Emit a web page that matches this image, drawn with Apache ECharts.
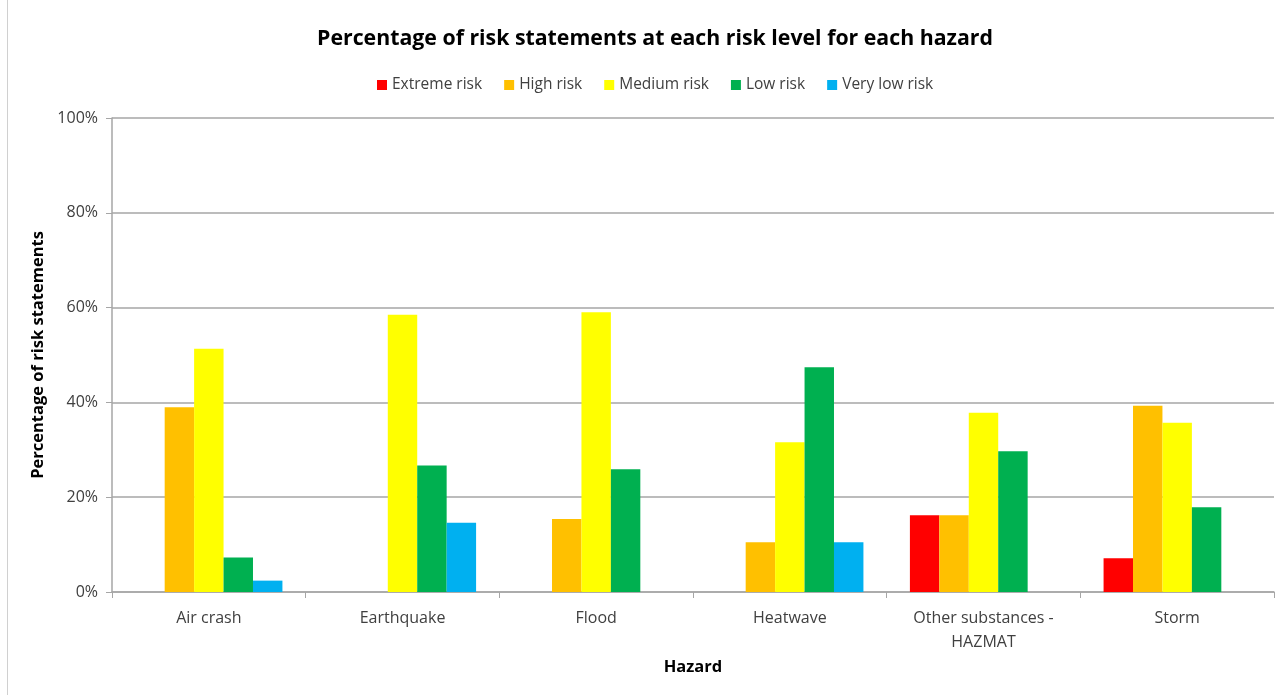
<!DOCTYPE html>
<html>
<head>
<meta charset="utf-8">
<script src="https://cdn.jsdelivr.net/npm/echarts@6/dist/echarts.min.js"></script>
<style>
  html, body { margin: 0; padding: 0; background: #fff; }
  #frame { position: absolute; left: 7px; top: 0; width: 1280px; height: 695px; border-left: 1px solid #d0d0d0; box-sizing: border-box; }
  #chart { position: absolute; left: 0; top: 0; width: 1280px; height: 695px; }
</style>
</head>
<body>
<div id="frame"></div>
<div id="chart"></div>
<script>
var hazards = ['Air crash', 'Earthquake', 'Flood', 'Heatwave', 'Other substances -\nHAZMAT', 'Storm'];
var riskLevels = ['Extreme risk', 'High risk', 'Medium risk', 'Low risk', 'Very low risk'];
var riskColors = ['#ff0000', '#ffc000', '#ffff00', '#00b050', '#00b0f0'];

// percentage per hazard, one array per risk level
var extremeRisk = [0, 0, 0, 0, 16.2, 7.1];
var highRisk = [39.0, 0, 15.4, 10.5, 16.2, 39.3];
var mediumRisk = [51.3, 58.5, 59.0, 31.6, 37.8, 35.7];
var lowRisk = [7.3, 26.7, 25.9, 47.4, 29.7, 17.9];
var veryLowRisk = [2.4, 14.6, 0, 10.5, 0, 0];

var yTicks = [0, 20, 40, 60, 80, 100];

var levelData = [extremeRisk, highRisk, mediumRisk, lowRisk, veryLowRisk];

var series = [];
for (var i = 0; i < riskLevels.length; i++) {
    series.push({
        name: riskLevels[i],
        type: 'bar',
        data: levelData[i],
        barGap: '0%',
        barCategoryGap: '24%',
        itemStyle: { color: riskColors[i] }
    });
}

var font = 'Open Sans';
var option = {
    animation: false,
    title: {
        text: 'Percentage of risk statements at each risk level for each hazard',
        left: 650,
        textAlign: 'center',
        top: 23,
        textStyle: { fontFamily: font, fontSize: 21.3, fontWeight: 'bold', color: '#000' }
    },
    legend: {
        data: riskLevels,
        top: 72,
        left: 372,
        itemWidth: 10,
        itemHeight: 10,
        itemGap: 22,
        icon: 'rect',
        textStyle: { fontFamily: font, fontSize: 15.5, color: '#404040' }
    },
    grid: { left: 112, right: 6, top: 118, bottom: 103 },
    xAxis: {
        type: 'category',
        data: hazards,
        name: 'Hazard',
        nameLocation: 'middle',
        nameGap: 67,
        nameTextStyle: { fontFamily: font, fontSize: 16.5, fontWeight: 'bold', color: '#000' },
        axisLine: { lineStyle: { color: '#a6a6a6', width: 1.5 } },
        axisTick: { show: true, length: 6, lineStyle: { color: '#a6a6a6' } },
        axisLabel: { fontFamily: font, fontSize: 16, color: '#404040', margin: 14, lineHeight: 24 }
    },
    yAxis: {
        type: 'value',
        min: 0,
        max: 100,
        interval: 20,
        name: 'Percentage of risk statements',
        nameLocation: 'middle',
        nameGap: 61,
        nameTextStyle: { fontFamily: font, fontSize: 16.5, fontWeight: 'bold', color: '#000' },
        axisLine: { show: true, lineStyle: { color: '#a6a6a6', width: 1.5 } },
        axisTick: { show: true, length: 6, lineStyle: { color: '#a6a6a6' } },
        splitLine: { lineStyle: { color: '#a6a6a6', width: 1.5 } },
        axisLabel: {
            fontFamily: font, fontSize: 16, color: '#404040', margin: 14,
            formatter: function (v) { return yTicks.indexOf(v) >= 0 ? v + '%' : ''; }
        }
    },
    series: series
};

var myEcharts = echarts.init(document.getElementById('chart'));
myEcharts.setOption(option);
</script>
</body>
</html>
